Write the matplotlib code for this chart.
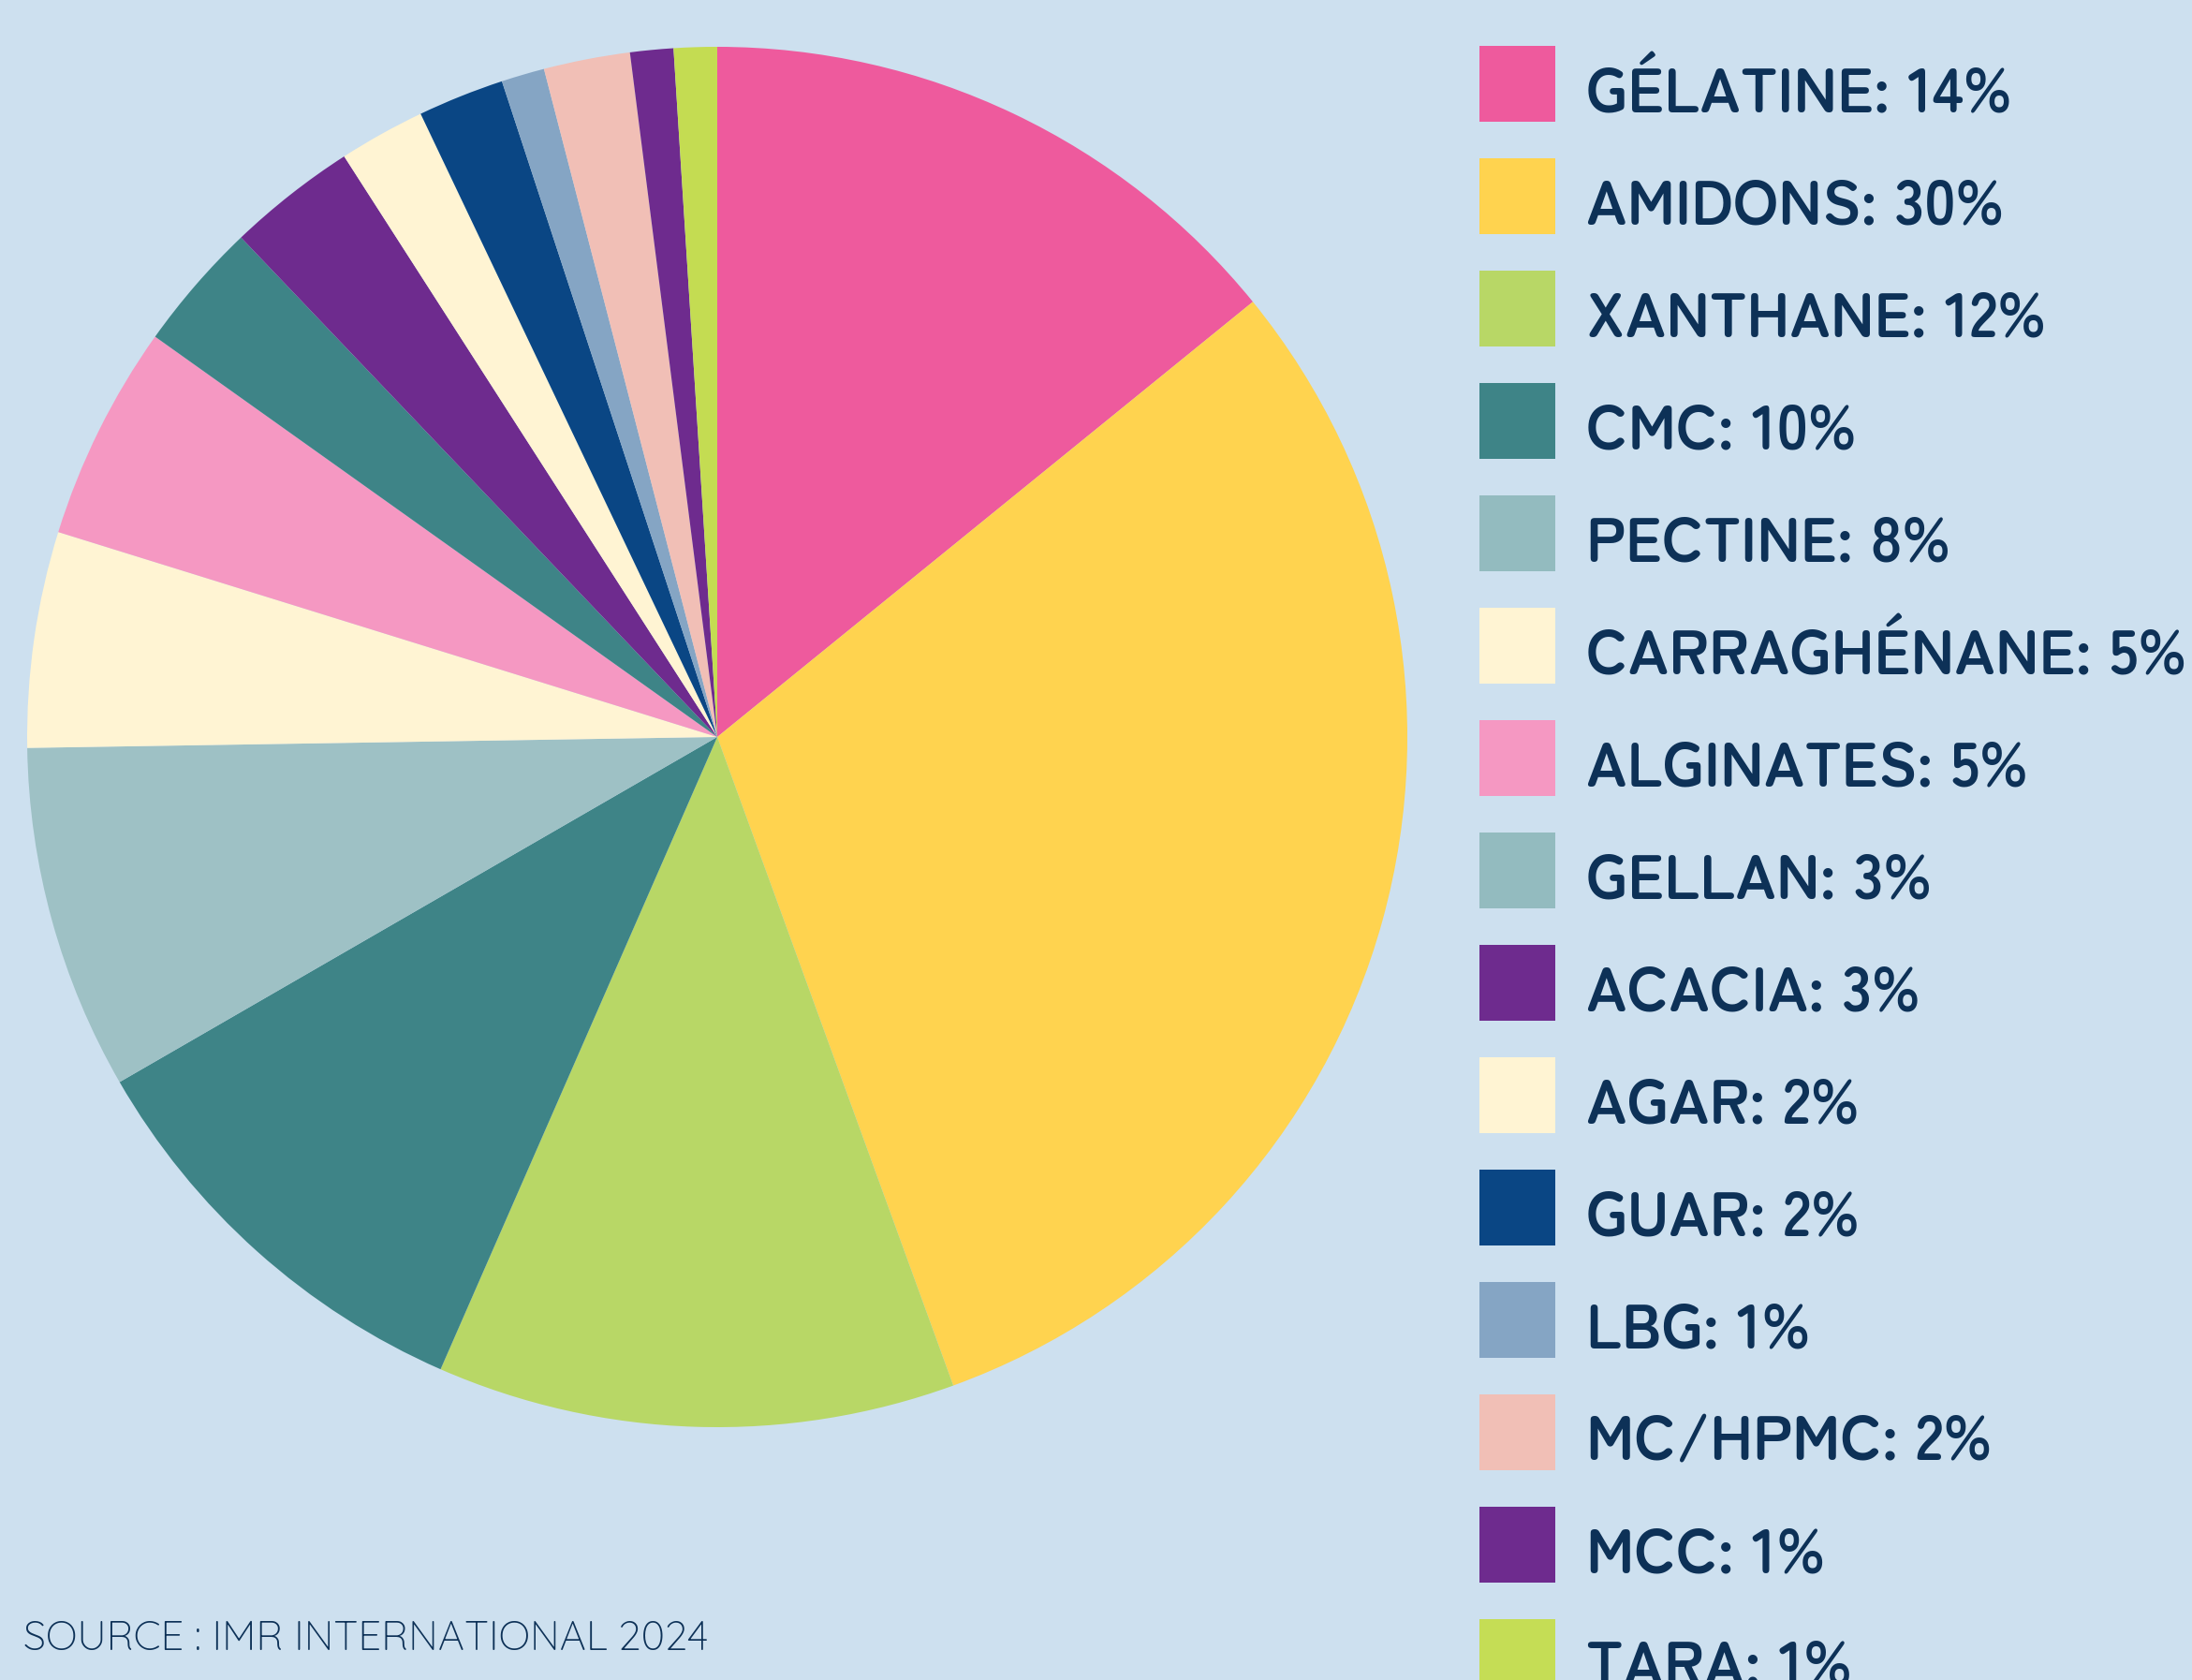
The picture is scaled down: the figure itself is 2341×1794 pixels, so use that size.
import matplotlib
matplotlib.use("Agg")
import matplotlib.pyplot as plt
from matplotlib.patches import Rectangle
from matplotlib import font_manager as fm

# ---------------- data ----------------
categories = ["GÉLATINE", "AMIDONS", "XANTHANE", "CMC", "PECTINE", "CARRAGHÉNANE",
              "ALGINATES", "GELLAN", "ACACIA", "AGAR", "GUAR", "LBG", "MC/HPMC", "MCC", "TARA"]
shares = [14, 30, 12, 10, 8, 5, 5, 3, 3, 2, 2, 1, 2, 1, 1]
pie_colors = ["#EE5A9D", "#FFD34F", "#B8D766", "#3E8487", "#9EC1C5", "#FFF4D3",
              "#F598C2", "#3E8487", "#6E2B8E", "#FFF4D3", "#0A4684", "#85A5C4",
              "#F1BFB6", "#6E2B8E", "#C4DC52"]
legend_colors = ["#EE5A9D", "#FFD34F", "#B8D766", "#3E8487", "#93BBBF", "#FFF4D3",
                 "#F598C2", "#93BBBF", "#6E2B8E", "#FFF4D3", "#0A4684", "#85A5C4",
                 "#F1BFB6", "#6E2B8E", "#C5DD55"]
source_text = "SOURCE : IMR INTERNATIONAL 2024"

# ---------------- style ----------------
BG = "#CDE0EF"
NAVY = "#0D3157"
W, H = 2341, 1794

available = set(f.name for f in fm.fontManager.ttflist)
def pick(*names):
    for n in names:
        if n in available:
            return n
    return "DejaVu Sans"

bold_font = pick("Zen Maru Gothic", "Varela Round", "Lato", "DejaVu Sans")
bold_weight = 700
thin_font = pick("Quicksand", "Dosis", "Lato", "DejaVu Sans")
thin_weight = 300

fig = plt.figure(figsize=(W / 100, H / 100), dpi=100, facecolor=BG)
ax = fig.add_axes([0, 0, 1, 1])
ax.set_facecolor(BG)

# pie (pixel-based layout, y measured from bottom)
cx, cy, r = 766, H - 787, 737
ax.pie(shares, colors=pie_colors, startangle=90, counterclock=False,
       center=(cx, cy), radius=r, wedgeprops=dict(linewidth=0, antialiased=True))
ax.set_xlim(0, W)
ax.set_ylim(0, H)
ax.set_aspect("equal")
ax.axis("off")

renderer = fig.canvas.get_renderer()

def fit_size(text, family, weight, target_px, base=40):
    t = ax.text(0, 0, text, fontsize=base, family=family, weight=weight)
    w = t.get_window_extent(renderer=renderer).width
    t.remove()
    return base * target_px / w

# legend
legend_fs = fit_size("GÉLATINE: 14%", [bold_font, "DejaVu Sans"], bold_weight, 454)
box_x, box_w, box_h = 1580, 81, 81
first_top, step = 49, 120
text_x, first_base = 1694, 120
for i, (name, val, col) in enumerate(zip(categories, shares, legend_colors)):
    top = first_top + step * i
    ax.add_patch(Rectangle((box_x, H - top - box_h), box_w, box_h,
                           facecolor=col, edgecolor="none", clip_on=False))
    ax.text(text_x, H - (first_base + step * i), f"{name}: {val}%",
            fontsize=legend_fs, family=[bold_font, "DejaVu Sans"], weight=bold_weight,
            color=NAVY, ha="left", va="baseline", clip_on=False)

# source
src_fs = fit_size(source_text, [thin_font, "DejaVu Sans"], thin_weight, 730)
ax.text(25, H - 1762, source_text, fontsize=src_fs, family=[thin_font, "DejaVu Sans"],
        weight=thin_weight, color=NAVY, ha="left", va="baseline")

fig.savefig("out.png", facecolor=BG, dpi=100)
